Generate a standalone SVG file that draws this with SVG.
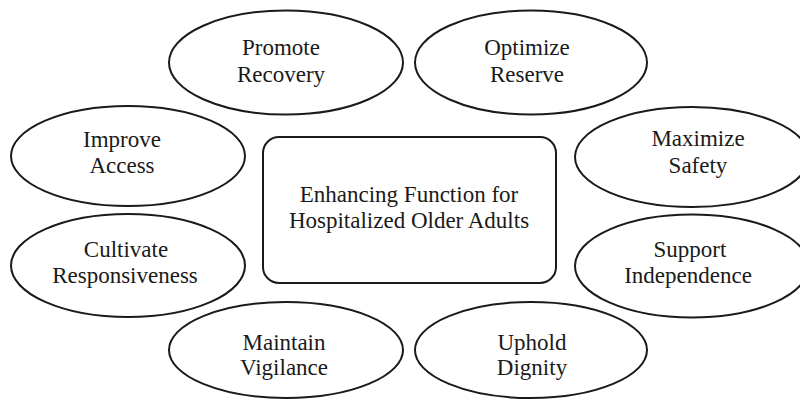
<svg xmlns="http://www.w3.org/2000/svg" width="800" height="401" viewBox="0 0 800 401">
<style>
.n ellipse,.n rect{fill:#fff;stroke:#1a1a1a;stroke-width:2}
text{font-family:"Liberation Serif","Times New Roman",serif;font-size:23px;fill:#1a1a1a;text-anchor:middle}
</style>
<rect width="800" height="401" fill="#fff"/>
<g id="connectors"/>
<g id="center" class="n"><rect x="263" y="137" width="293" height="146" rx="16"/><text x="409" y="202">Enhancing Function for</text><text x="409" y="228">Hospitalized Older Adults</text></g>
<g id="promote" class="n"><ellipse cx="286" cy="62.5" rx="117" ry="52"/><text x="281" y="55">Promote</text><text x="281" y="82">Recovery</text></g>
<g id="optimize" class="n"><ellipse cx="531" cy="62.5" rx="116" ry="52"/><text x="527" y="55">Optimize</text><text x="527" y="82">Reserve</text></g>
<g id="improve" class="n"><ellipse cx="128" cy="156" rx="117" ry="50"/><text x="122" y="147">Improve</text><text x="122" y="173">Access</text></g>
<g id="cultivate" class="n"><ellipse cx="128" cy="265.5" rx="117" ry="51.5"/><text x="126" y="257">Cultivate</text><text x="125" y="283">Responsiveness</text></g>
<g id="maximize" class="n"><ellipse cx="692" cy="157" rx="117" ry="50"/><text x="698" y="146">Maximize</text><text x="698" y="173">Safety</text></g>
<g id="support" class="n"><ellipse cx="692" cy="266" rx="117" ry="51.5"/><text x="690" y="257">Support</text><text x="688" y="283">Independence</text></g>
<g id="maintain" class="n"><ellipse cx="286" cy="350" rx="117" ry="48"/><text x="284" y="350">Maintain</text><text x="284" y="375">Vigilance</text></g>
<g id="uphold" class="n"><ellipse cx="531" cy="350" rx="116" ry="48"/><text x="532" y="350">Uphold</text><text x="532" y="375">Dignity</text></g>
</svg>
